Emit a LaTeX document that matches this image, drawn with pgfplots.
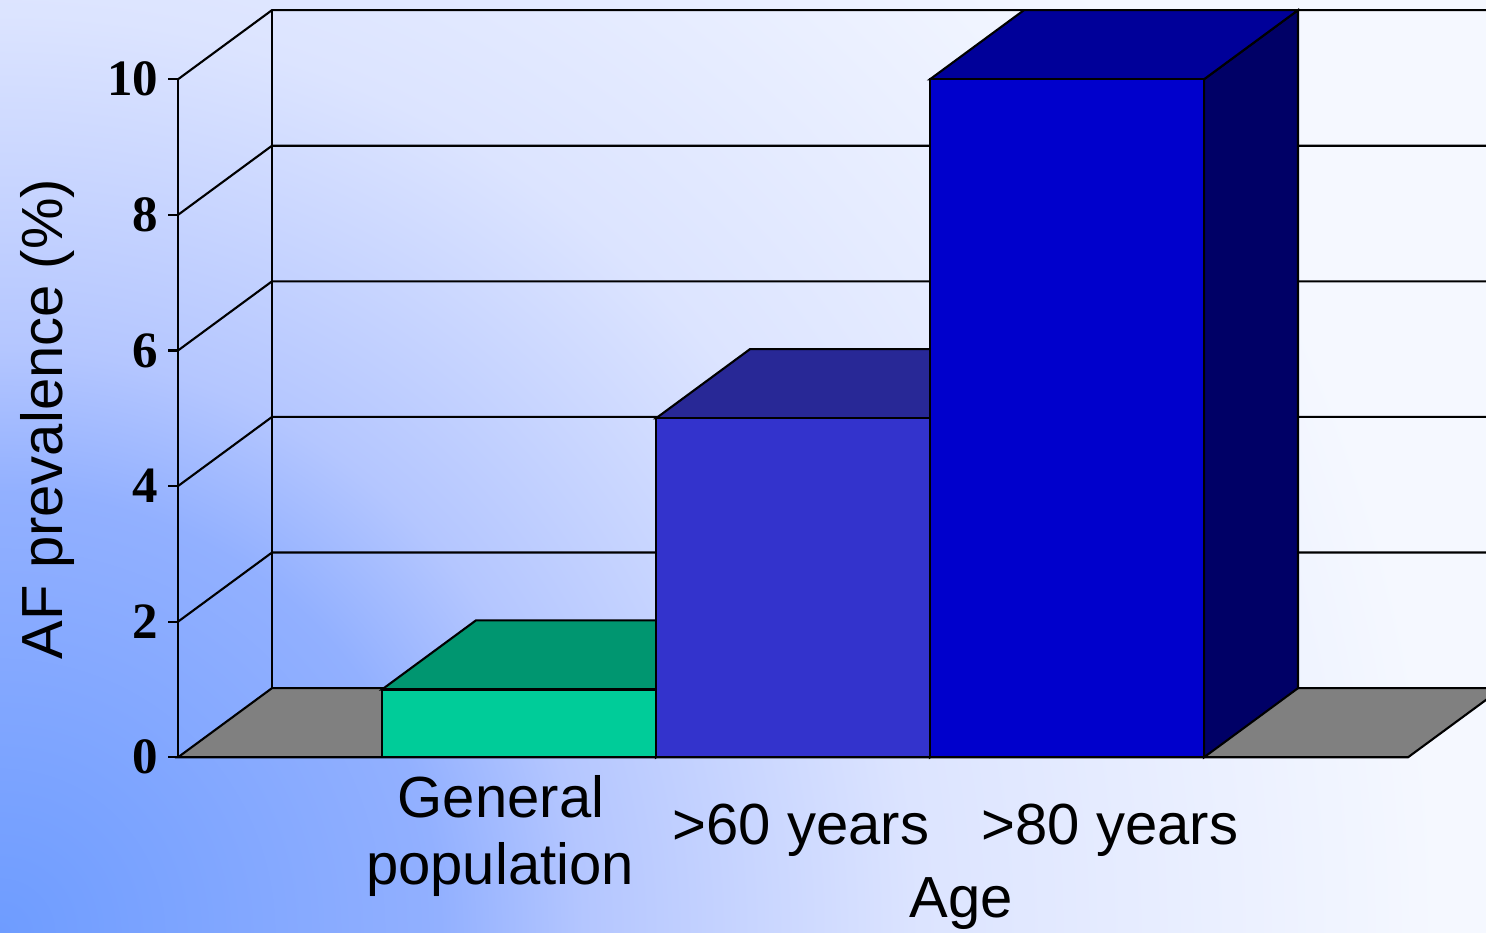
\documentclass[border=0pt]{standalone}
\usepackage{pgfplots}
\pgfplotsset{compat=1.18}
\usepackage{fontspec}
\setmainfont{Liberation Serif}
\newfontfamily\arial{Liberation Sans}
\definecolor{bgA}{HTML}{6E9CFF}
\definecolor{bgM}{HTML}{92B0FF}
\definecolor{bgB}{HTML}{B4C6FF}
\definecolor{bgC}{HTML}{DCE4FF}
\definecolor{bgD}{HTML}{F5F8FF}
\definecolor{gFront}{HTML}{00CC99}
\definecolor{gTop}{HTML}{009670}
\definecolor{gSide}{HTML}{006B4F}
\definecolor{pFront}{HTML}{3333CC}
\definecolor{pTop}{HTML}{282896}
\definecolor{pSide}{HTML}{1A1A66}
\definecolor{bFront}{HTML}{0000CC}
\definecolor{bTop}{HTML}{000099}
\definecolor{bSide}{HTML}{000066}
\definecolor{floorgray}{HTML}{808080}
\pgfdeclareradialshading{bgshade}{\pgfpoint{0bp}{0bp}}{color(0bp)=(bgA); color(5.5bp)=(bgM); color(7.3bp)=(bgB); color(11.5bp)=(bgC); color(18bp)=(bgD); color(50bp)=(bgD)}
\begin{document}
\begin{tikzpicture}
\path[use as bounding box] (0,0) rectangle (14.86,9.33);
\begin{scope}
\clip (0,0) rectangle (14.86,9.33);
\fill[bgD] (0,0) rectangle (14.86,9.33);
\shade[shading=bgshade] (0,0) circle (20cm);
\end{scope}
\begin{axis}[at={(0,0)}, anchor=south west,
  width=14.86cm, height=9.33cm, scale only axis, hide axis,
  xmin=0, xmax=1486, ymin=-2.5914, ymax=11.1696, clip=false]
% walls and grid lines
\begin{scope}
\clip (axis cs:0,-2.5914) rectangle (axis cs:1486,11.1696);
\addplot[black, line width=0.6pt] coordinates {(178,0) (178,10)};
\addplot[black, line width=0.6pt] coordinates {(272,1.02) (272,11.02)};
\addplot[black, line width=0.6pt] coordinates {(178,2) (272,3.02) (1486,3.02)};
\addplot[black, line width=0.6pt] coordinates {(178,4) (272,5.02) (1486,5.02)};
\addplot[black, line width=0.6pt] coordinates {(178,6) (272,7.02) (1486,7.02)};
\addplot[black, line width=0.6pt] coordinates {(178,8) (272,9.02) (1486,9.02)};
\addplot[black, line width=0.6pt] coordinates {(178,10) (272,11.02) (1486,11.02)};
\addplot[black, line width=0.6pt] coordinates {(168,0) (178,0)};
\addplot[black, line width=0.6pt] coordinates {(168,2) (178,2)};
\addplot[black, line width=0.6pt] coordinates {(168,4) (178,4)};
\addplot[black, line width=0.6pt] coordinates {(168,6) (178,6)};
\addplot[black, line width=0.6pt] coordinates {(168,8) (178,8)};
\addplot[black, line width=0.6pt] coordinates {(168,10) (178,10)};
% floor
\addplot[fill=floorgray, draw=black, line width=0.6pt] coordinates {(178,0) (1408,0) (1502,1.02) (272,1.02)} -- cycle;
% bar 1: General population = 1
\addplot[fill=gSide, draw=black, line width=0.6pt] coordinates {(656,0) (750,1.02) (750,2.02) (656,1)} -- cycle;
\addplot[fill=gTop, draw=black, line width=0.6pt] coordinates {(382,1) (656,1) (750,2.02) (476,2.02)} -- cycle;
\addplot[fill=gFront, draw=black, line width=0.6pt] coordinates {(382,0) (656,0) (656,1) (382,1)} -- cycle;
% bar 2: >60 years = 5
\addplot[fill=pSide, draw=black, line width=0.6pt] coordinates {(930,0) (1024,1.02) (1024,6.02) (930,5)} -- cycle;
\addplot[fill=pTop, draw=black, line width=0.6pt] coordinates {(656,5) (930,5) (1024,6.02) (750,6.02)} -- cycle;
\addplot[fill=pFront, draw=black, line width=0.6pt] coordinates {(656,0) (930,0) (930,5) (656,5)} -- cycle;
% bar 3: >80 years = 10
\addplot[fill=bSide, draw=black, line width=0.6pt] coordinates {(1204,0) (1298,1.02) (1298,11.02) (1204,10)} -- cycle;
\addplot[fill=bTop, draw=black, line width=0.6pt] coordinates {(930,10) (1204,10) (1298,11.02) (1024,11.02)} -- cycle;
\addplot[fill=bFront, draw=black, line width=0.6pt] coordinates {(930,0) (1204,0) (1204,10) (930,10)} -- cycle;
\end{scope}
% tick labels
\node[anchor=east, inner sep=0pt, font=\bfseries\fontsize{14.5}{16}\selectfont] at (axis cs:159,0) {0};
\node[anchor=east, inner sep=0pt, font=\bfseries\fontsize{14.5}{16}\selectfont] at (axis cs:159,2) {2};
\node[anchor=east, inner sep=0pt, font=\bfseries\fontsize{14.5}{16}\selectfont] at (axis cs:159,4) {4};
\node[anchor=east, inner sep=0pt, font=\bfseries\fontsize{14.5}{16}\selectfont] at (axis cs:159,6) {6};
\node[anchor=east, inner sep=0pt, font=\bfseries\fontsize{14.5}{16}\selectfont] at (axis cs:159,8) {8};
\node[anchor=east, inner sep=0pt, font=\bfseries\fontsize{14.5}{16}\selectfont] at (axis cs:159,10) {10};
% category labels
\node[anchor=base, inner sep=0pt, font=\arial\fontsize{16.5}{19}\selectfont] at (axis cs:501,-0.895) {General};
\node[anchor=base, inner sep=0pt, font=\arial\fontsize{16.5}{19}\selectfont] at (axis cs:500,-1.883) {population};
\node[anchor=base, inner sep=0pt, font=\arial\fontsize{16.5}{19}\selectfont] at (axis cs:801,-1.29) {>60 years};
\node[anchor=base, inner sep=0pt, font=\arial\fontsize{16.5}{19}\selectfont] at (axis cs:1110,-1.29) {>80 years};
\node[anchor=base, inner sep=0pt, font=\arial\fontsize{16.5}{19}\selectfont] at (axis cs:961,-2.37) {Age};
\node[anchor=base, inner sep=0pt, rotate=90, font=\arial\fontsize{16.5}{19}\selectfont] at (axis cs:62,4.99) {AF prevalence (\%)};
\end{axis}
\end{tikzpicture}
\end{document}
